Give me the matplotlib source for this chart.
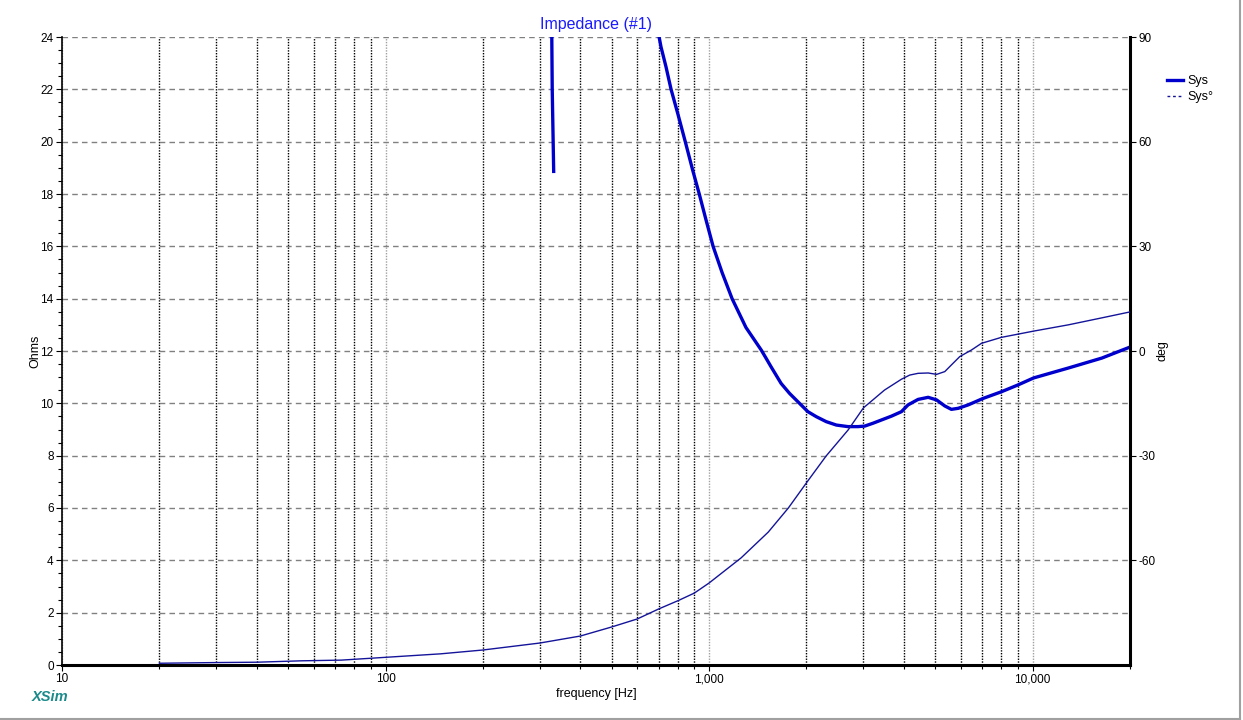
import numpy as np
import matplotlib
matplotlib.use('Agg')
from matplotlib import pyplot as plt
from matplotlib.ticker import FixedLocator, FuncFormatter, NullFormatter
import matplotlib.lines as mlines

plt.rcParams['font.family'] = ['Liberation Sans', 'DejaVu Sans']
plt.rcParams['axes.unicode_minus'] = False

# impedance magnitude (Ohms)
imp_freq = [600, 701, 710, 736, 763, 800, 845, 890, 933, 979, 1029, 1097, 1178, 1300,
            1449, 1501, 1554, 1670, 1773, 1882, 2021, 2145, 2302, 2474, 2688, 2886,
            3027, 3212, 3404, 3661, 3930, 4121, 4426, 4756, 5050, 5353, 5610, 5890,
            6323, 7038, 8000, 9000, 10070, 12900, 16370, 20000]
imp_ohm = [30, 23.99, 23.63, 22.86, 22.0, 21.08, 19.98, 18.91, 17.99, 17.0, 16.0, 15.0,
           14.0, 12.9, 12.04, 11.72, 11.40, 10.76, 10.38, 10.06, 9.68, 9.49, 9.30, 9.17,
           9.11, 9.11, 9.13, 9.24, 9.36, 9.51, 9.68, 9.94, 10.15, 10.23, 10.13, 9.90,
           9.77, 9.81, 9.94, 10.19, 10.44, 10.7, 10.97, 11.35, 11.73, 12.15]

# short spike around 330 Hz
spike_freq = [326, 327.5, 331]
spike_ohm = [25, 22, 18.8]

# phase (deg)
ph_freq = [20, 30, 40, 55, 73, 100, 148, 200, 300, 400, 500, 600, 700, 800, 900,
           1000, 1256, 1524, 1758, 2010, 2300, 2692, 3000, 3485, 3930, 4170, 4426,
           4756, 5050, 5353, 5610, 5955, 6475, 6950, 8000, 10070, 12900, 16370, 20000]
ph_deg = [-89.5, -89.3, -89.2, -88.8, -88.6, -87.8, -86.8, -85.7, -83.7, -81.7,
          -79.1, -76.8, -73.9, -71.6, -69.4, -66.5, -59.3, -51.9, -45, -37.5, -30.1,
          -22.6, -16.3, -11.2, -8.1, -6.9, -6.4, -6.3, -6.7, -5.9, -4.0, -1.6, 0.3,
          2.2, 3.9, 5.7, 7.5, 9.5, 11.2]

ohm_ticks = list(range(0, 25, 2))
deg_ticks = [-60, -30, 0, 30, 60, 90]
decades = [10, 100, 1000, 10000]
minor_x = [m * d for d in decades for m in range(2, 10) if m * d <= 20000]

W, H = 1243, 720
fig = plt.figure(figsize=(W / 100, H / 100), dpi=100)
ax = fig.add_axes([62 / W, 1 - 665 / H, (1130 - 62) / W, (665 - 37) / H])
ax2 = ax.twinx()

blue = '#0000cc'
navy = '#14149a'

ax.plot(imp_freq, imp_ohm, color=blue, lw=2.4, solid_capstyle='butt',
        solid_joinstyle='round', zorder=3)
ax.plot(spike_freq, spike_ohm, color=blue, lw=2.4, solid_capstyle='butt', zorder=3)
ax2.plot(ph_freq, ph_deg, color=navy, lw=1.0, zorder=3)

ax.set_xscale('log')
ax.set_xlim(10, 20000)
ax.set_ylim(0, 24)
ax2.set_ylim(-90, 90)

# ticks
ax.xaxis.set_major_locator(FixedLocator(decades))
ax.xaxis.set_minor_locator(FixedLocator(minor_x))
ax.xaxis.set_major_formatter(FuncFormatter(lambda v, p: f'{int(v):,}'))
ax.xaxis.set_minor_formatter(NullFormatter())
ax.yaxis.set_major_locator(FixedLocator(ohm_ticks))
ax.yaxis.set_minor_locator(FixedLocator(list(np.arange(0, 24.01, 0.5))))
ax2.yaxis.set_major_locator(FixedLocator(deg_ticks))
ax.tick_params(which='major', direction='out', length=4, width=0.8, labelsize=8.5, pad=2)
ax.tick_params(which='minor', direction='out', length=3, width=0.8)
ax2.tick_params(which='major', direction='out', length=4, width=0.8, labelsize=8.5, pad=2)

# grid
ax.grid(which='minor', axis='x', color='black', linestyle=(0, (1, 1)), lw=1.0)
ax.grid(which='major', axis='x', color='#a0a0a0', linestyle=(0, (1, 1)), lw=1.0)
ax.grid(which='major', axis='y', color='#808080', linestyle=(0, (4, 3)), lw=1.0)
ax.set_axisbelow(True)

for s in ['top', 'right']:
    ax.spines[s].set_visible(False)
for s in ['top', 'left', 'bottom']:
    ax2.spines[s].set_visible(False)
ax.spines['left'].set_linewidth(1.2)
ax.spines['bottom'].set_linewidth(2.2)
ax2.spines['right'].set_linewidth(2.2)

ax.set_xlabel('frequency [Hz]', fontsize=9, labelpad=2)
ax.set_ylabel('Ohms', fontsize=9, labelpad=-1)
ax2.set_ylabel('deg', fontsize=9, labelpad=1, rotation=90)
ax.set_title('Impedance (#1)', color='#1a1aff', fontsize=11.5, pad=6)

handles = [
    mlines.Line2D([], [], color=blue, lw=2.4, label='Sys'),
    mlines.Line2D([], [], color=navy, lw=1.0, linestyle=(0, (2, 2)), label='Sys°'),
]
fig.legend(handles=handles, loc='upper left', bbox_to_anchor=(1162 / W, 1 - 70 / H),
           frameon=False, fontsize=9, handlelength=1.3, handletextpad=0.3,
           labelspacing=0.35, borderaxespad=0)

fig.text(32 / W, 1 - 697 / H, 'XSim', color='#1a8a8a', fontsize=10.5,
         fontstyle='italic', fontweight='bold', va='center', ha='left')

# window frame
fig.add_artist(mlines.Line2D([1240 / W, 1240 / W], [1 - 719 / H, 1], color='#a0a0a0', lw=1.5))
fig.add_artist(mlines.Line2D([0, 1240 / W], [1 - 718.5 / H, 1 - 718.5 / H], color='#a0a0a0', lw=1.5))

fig.savefig('out.png', dpi=100)
